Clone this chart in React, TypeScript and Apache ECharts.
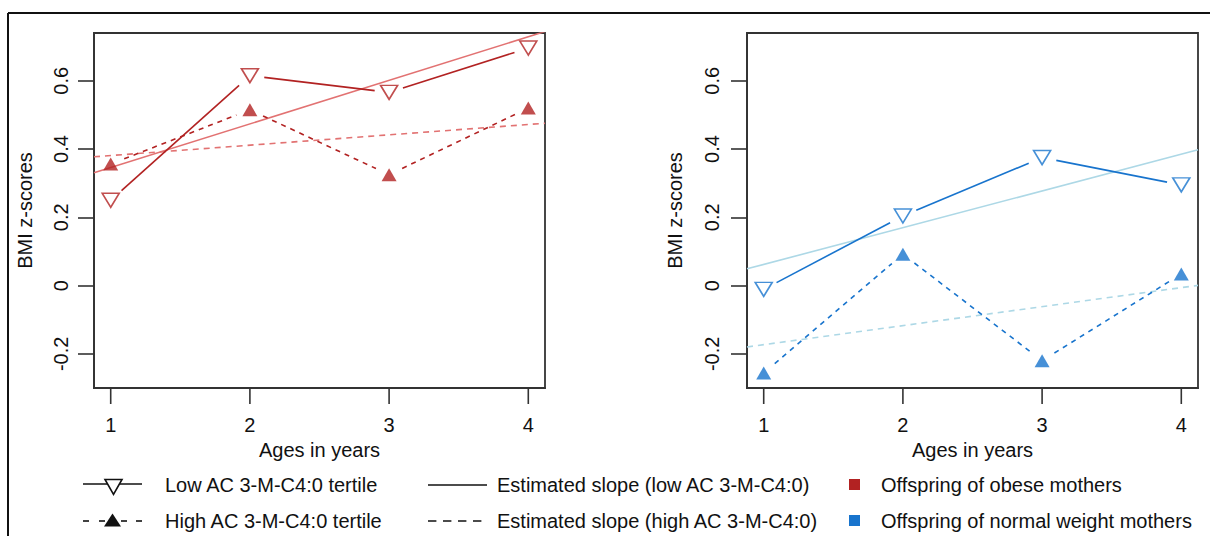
import React, { useEffect, useRef } from "react";
import * as echarts from "echarts";

// ---- data ----
const ages = [1, 2, 3, 4];
const xTicks = [1, 2, 3, 4];
const yTicks = [-0.2, 0, 0.2, 0.4, 0.6];
// Offspring of obese mothers
const obeseLow = [0.25, 0.615, 0.566, 0.696];
const obeseHigh = [0.356, 0.515, 0.325, 0.52];
// Offspring of normal weight mothers
const normalLow = [-0.011, 0.204, 0.375, 0.295];
const normalHigh = [-0.256, 0.092, -0.22, 0.034];
// Estimated slopes: fitted value at age 1 and at age 4
const obeseLowFit = [0.346, 0.729];
const obeseHighFit = [0.381, 0.472];
const normalLowFit = [0.062, 0.385];
const normalHighFit = [-0.173, -0.006];

const legendTexts = [
  "Low AC 3-M-C4:0 tertile",
  "High AC 3-M-C4:0 tertile",
  "Estimated slope (low AC 3-M-C4:0)",
  "Estimated slope (high AC 3-M-C4:0)",
  "Offspring of obese mothers",
  "Offspring of normal weight mothers",
];

const X_MIN = 0.88;
const X_MAX = 4.12;
const Y_MIN = -0.3;
const Y_MAX = 0.74;

const RED = "#B22222";
const RED_LIGHT = "#E27272";
const BLUE = "#1874CD";
const BLUE_LIGHT = "#ADD8E6";
const AXIS = "#333";
const FONT = "Liberation Sans, Arial, Helvetica, sans-serif";
const FS = 20;
const GAP = 14.5;
const TICK = 16;

function fitLine(f: number[]) {
  const at = (x: number) => f[0] + ((f[1] - f[0]) * (x - 1)) / 3;
  return [
    [X_MIN, at(X_MIN)],
    [X_MAX, at(X_MAX)],
  ];
}

function gapSeries(vals: number[], color: string, dashed: boolean, idx: number) {
  return {
    type: "custom",
    xAxisIndex: idx,
    yAxisIndex: idx,
    coordinateSystem: "cartesian2d",
    data: ages.map((a, i) => [a, vals[i]]),
    z: 3,
    renderItem: (params: any, api: any) => {
      const i = params.dataIndex;
      if (i >= ages.length - 1) return { type: "group", children: [] };
      const p = api.coord([ages[i], vals[i]]);
      const q = api.coord([ages[i + 1], vals[i + 1]]);
      const dx = q[0] - p[0];
      const dy = q[1] - p[1];
      const L = Math.hypot(dx, dy);
      const ux = dx / L;
      const uy = dy / L;
      return {
        type: "line",
        shape: {
          x1: p[0] + ux * GAP,
          y1: p[1] + uy * GAP,
          x2: q[0] - ux * GAP,
          y2: q[1] - uy * GAP,
        },
        style: {
          stroke: color,
          lineWidth: 1.6,
          lineDash: dashed ? [5, 5] : null,
          fill: null,
        },
      };
    },
  };
}

// x-axis tick marks drawn from the tick values through the axis scale
function xTickSeries(idx: number) {
  return {
    type: "custom",
    xAxisIndex: idx,
    yAxisIndex: idx,
    coordinateSystem: "cartesian2d",
    clip: false,
    silent: true,
    data: xTicks.map((v) => [v, Y_MIN]),
    z: 1,
    renderItem: (params: any, api: any) => {
      const p = api.coord([api.value(0), Y_MIN]);
      return {
        type: "line",
        shape: { x1: p[0], y1: p[1], x2: p[0], y2: p[1] + TICK },
        style: { stroke: AXIS, lineWidth: 1.6 },
      };
    },
  };
}

function panelSeries(
  low: number[],
  high: number[],
  lowFit: number[],
  highFit: number[],
  dark: string,
  light: string,
  idx: number
) {
  return [
    xTickSeries(idx),
    {
      type: "line",
      xAxisIndex: idx,
      yAxisIndex: idx,
      data: fitLine(lowFit),
      showSymbol: false,
      clip: true,
      lineStyle: { color: light, width: 1.6 },
      z: 2,
    },
    {
      type: "line",
      xAxisIndex: idx,
      yAxisIndex: idx,
      data: fitLine(highFit),
      showSymbol: false,
      clip: true,
      lineStyle: { color: light, width: 1.6, type: [6, 5] },
      z: 2,
    },
    gapSeries(low, dark, false, idx),
    gapSeries(high, dark, true, idx),
    {
      type: "scatter",
      xAxisIndex: idx,
      yAxisIndex: idx,
      data: ages.map((a, i) => [a, low[i]]),
      symbol: "triangle",
      symbolRotate: 180,
      symbolSize: [17, 14],
      itemStyle: { color: "rgba(255,255,255,0)", borderColor: dark, borderWidth: 1.6 },
      z: 4,
    },
    {
      type: "scatter",
      xAxisIndex: idx,
      yAxisIndex: idx,
      data: ages.map((a, i) => [a, high[i]]),
      symbol: "triangle",
      symbolSize: [15, 13],
      itemStyle: { color: dark },
      z: 4,
    },
  ];
}

function xAxis(idx: number) {
  return {
    type: "value",
    gridIndex: idx,
    min: X_MIN,
    max: X_MAX,
    name: "Ages in years",
    nameLocation: "middle",
    nameGap: 48,
    nameTextStyle: { fontFamily: FONT, fontSize: FS, color: "#111" },
    splitLine: { show: false },
    axisLine: { show: true, onZero: false, lineStyle: { color: AXIS, width: 1.8 } },
    axisTick: { show: false },
    axisLabel: { customValues: xTicks, margin: 27, fontFamily: FONT, fontSize: FS, color: "#111" },
  };
}

function yAxis(idx: number, gap: number, margin: number) {
  return {
    type: "value",
    gridIndex: idx,
    min: Y_MIN,
    max: Y_MAX,
    name: "BMI z-scores",
    nameLocation: "middle",
    nameGap: gap,
    nameTextStyle: { fontFamily: FONT, fontSize: FS, color: "#111" },
    splitLine: { show: false },
    axisLine: { show: true, onZero: false, lineStyle: { color: AXIS, width: 1.8 } },
    axisTick: { show: true, inside: false, length: TICK, customValues: yTicks, lineStyle: { color: AXIS, width: 1.6 } },
    axisLabel: { customValues: yTicks, rotate: 90, margin, fontFamily: FONT, fontSize: FS, color: "#111" },
  };
}

function triPoints(cx: number, cy: number, w: number, h: number, down: boolean) {
  return down
    ? [[cx - w / 2, cy - h / 2], [cx + w / 2, cy - h / 2], [cx, cy + h / 2]]
    : [[cx - w / 2, cy + h / 2], [cx + w / 2, cy + h / 2], [cx, cy - h / 2]];
}

function legendGraphics() {
  const r1 = 485;
  const r2 = 521;
  const txt = (x: number, y: number, s: string) => ({
    type: "text",
    x,
    y,
    style: { text: s, fontFamily: FONT, fontSize: FS, fill: "#111", textVerticalAlign: "middle", textAlign: "left" },
  });
  const ln = (x1: number, x2: number, y: number, dash?: number[]) => ({
    type: "line",
    shape: { x1, y1: y, x2, y2: y },
    style: { stroke: "#111", lineWidth: 1.6, lineDash: dash || null },
  });
  return [
    // outer frame
    { type: "line", shape: { x1: 8, y1: 13, x2: 1210, y2: 13 }, style: { stroke: "#111", lineWidth: 2 } },
    { type: "line", shape: { x1: 8, y1: 13, x2: 8, y2: 536 }, style: { stroke: "#111", lineWidth: 2 } },
    // column 1
    ln(83, 142, r1 - 1),
    { type: "polygon", shape: { points: triPoints(113.5, r1 + 2, 17, 15, true) }, style: { fill: "#fff", stroke: "#111", lineWidth: 1.6 } },
    txt(165, r1, legendTexts[0]),
    ln(83, 89, r2),
    ln(99, 105, r2),
    ln(121, 127, r2),
    ln(136, 142, r2),
    { type: "polygon", shape: { points: triPoints(112.5, r2 - 1, 17, 13, false) }, style: { fill: "#111" } },
    txt(165, r2, legendTexts[1]),
    // column 2
    ln(428, 487, r1),
    ln(428, 482, r2, [8.4, 6.6]),
    txt(497, r1, legendTexts[2]),
    txt(497, r2, legendTexts[3]),
    // column 3
    { type: "rect", shape: { x: 849, y: r1 - 6, width: 11, height: 11 }, style: { fill: RED } },
    { type: "rect", shape: { x: 849, y: r2 - 6, width: 11, height: 11 }, style: { fill: BLUE } },
    txt(881, r1, legendTexts[4]),
    txt(881, r2, legendTexts[5]),
  ];
}

export default function App() {
  const ref = useRef<HTMLDivElement>(null);
  useEffect(() => {
    document.body.style.margin = "0";
    const chart = echarts.init(ref.current!, null, { renderer: "svg" });
    chart.setOption({
      animation: false,
      backgroundColor: "#fff",
      grid: [
        { left: 94, top: 33, width: 451, height: 355, show: true, borderColor: AXIS, borderWidth: 1.8, backgroundColor: "transparent" },
        { left: 747, top: 33, width: 451, height: 355, show: true, borderColor: AXIS, borderWidth: 1.8, backgroundColor: "transparent" },
      ],
      xAxis: [xAxis(0), xAxis(1)],
      yAxis: [yAxis(0, 59, 23), yAxis(1, 62, 25)],
      series: [
        ...panelSeries(obeseLow, obeseHigh, obeseLowFit, obeseHighFit, RED, RED_LIGHT, 0),
        ...panelSeries(normalLow, normalHigh, normalLowFit, normalHighFit, BLUE, BLUE_LIGHT, 1),
      ],
      graphic: legendGraphics(),
    });
    return () => chart.dispose();
  }, []);
  return <div ref={ref} style={{ position: "absolute", left: 0, top: 0, width: 1210, height: 536 }} />;
}
